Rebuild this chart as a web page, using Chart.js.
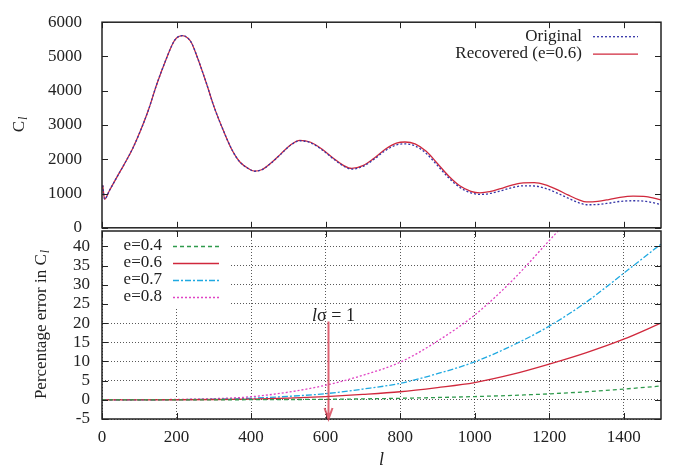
<!DOCTYPE html>
<html>
<head>
<meta charset="utf-8">
<title>C_l recovery</title>
<script src="https://cdn.jsdelivr.net/npm/chart.js@4.4.1/dist/chart.umd.min.js"></script>
<style>
  body { margin: 0; background: #fff; }
  #wrap { position: relative; width: 673px; height: 472px; }
  canvas { position: absolute; left: 0; top: 0; }
</style>
</head>
<body>
<div id="wrap">
  <canvas id="topChart" width="673" height="250"></canvas>
  <canvas id="errChart" width="673" height="472"></canvas>
</div>
<script>
// multipole l for the top panel
const lTop = [2, 7, 20, 40, 60, 83, 102, 125, 147, 175, 190, 200, 216, 230, 240, 255, 281, 300, 326, 350, 370, 397,
  410, 430, 455, 480, 505, 531, 560, 590, 620, 650, 670, 700, 730, 760, 790, 813, 840, 870, 900, 930,
  960, 990, 1014, 1040, 1070, 1100, 1130, 1160, 1190, 1220, 1250, 1280, 1300, 1330, 1360, 1390, 1425, 1460, 1500];
// original C_l
const clOriginal = [1240, 835, 1090, 1480, 1860, 2330, 2800, 3450, 4190, 5000, 5380, 5540, 5610, 5540, 5400, 5000, 4190, 3550, 2830, 2250, 1920, 1700,
  1650, 1700, 1900, 2150, 2400, 2540, 2480, 2280, 2020, 1790, 1713, 1790, 2000, 2250, 2420, 2450, 2390, 2170, 1820, 1460,
  1180, 1020, 975, 1000, 1080, 1170, 1225, 1220, 1150, 1020, 870, 730, 672, 680, 720, 770, 790, 770, 680];
// recovered C_l (e=0.6)
const clRecovered = [1240, 835, 1090, 1480, 1860, 2330, 2800, 3450, 4190, 5000, 5380, 5540, 5610, 5540, 5400, 5000, 4190, 3550, 2830, 2250, 1920, 1702,
  1652, 1702, 1906, 2158, 2411, 2554, 2496, 2297, 2037, 1808, 1732, 1814, 2031, 2291, 2468, 2504, 2450, 2231, 1878, 1513,
  1227, 1065, 1022, 1053, 1144, 1246, 1313, 1316, 1252, 1119, 962, 815, 755, 770, 824, 889, 924, 911, 816];

// multipole l for the error panel
const lErr = [0, 100, 200, 300, 400, 500, 600, 700, 800, 900, 1000, 1100, 1200, 1300, 1400, 1500];
// percentage error in C_l for each e
const err04 = [0, 0, 0, 0.01, 0.03, 0.07, 0.13, 0.24, 0.4, 0.6, 0.85, 1.15, 1.55, 2.1, 2.8, 3.6];
const err06 = [0, 0, 0.02, 0.08, 0.2, 0.45, 0.85, 1.4, 2.1, 3.2, 4.5, 6.6, 9.3, 12.3, 15.8, 20];
const err07 = [0, 0.01, 0.05, 0.15, 0.4, 0.9, 1.6, 2.8, 4.3, 6.8, 9.9, 14.1, 19.2, 25.5, 33, 40.6];
const err08 = [0, 0.02, 0.1, 0.3, 0.8, 2.0, 3.8, 6.4, 9.8, 15.3, 22.1, 31, 41.5, 52, null, null];

// tick labels
const xTicks = [0, 200, 400, 600, 800, 1000, 1200, 1400];
const clTicks = [0, 1000, 2000, 3000, 4000, 5000, 6000];
const errTicks = [-5, 0, 5, 10, 15, 20, 25, 30, 35, 40];

// l_sigma = 1 marker
const sigmaL = 607;
const sigmaTop = 20.4;

const SERIF = "'Liberation Serif', 'DejaVu Serif', serif";
const INK = '#222';
const FS = 17;

let pts = (xs, ys) => xs.map((x, i) => ({ x: x, y: ys[i] }));
let fixTicks = (arr) => (scale) => { scale.ticks = arr.map(v => ({ value: v })); };

// frame and gnuplot style inward ticks on all four sides
let drawFrame = (chart) => {
  const { ctx, chartArea: a, scales: { x, y } } = chart;
  const len = 6;
  ctx.save();
  ctx.strokeStyle = INK;
  ctx.lineWidth = 1;
  ctx.beginPath();
  x.ticks.forEach(t => {
    const px = Math.round(x.getPixelForValue(t.value)) + 0.5;
    ctx.moveTo(px, a.bottom); ctx.lineTo(px, a.bottom - len);
    ctx.moveTo(px, a.top); ctx.lineTo(px, a.top + len);
  });
  y.ticks.forEach(t => {
    const py = Math.round(y.getPixelForValue(t.value)) + 0.5;
    ctx.moveTo(a.left, py); ctx.lineTo(a.left + len, py);
    ctx.moveTo(a.right, py); ctx.lineTo(a.right - len, py);
  });
  ctx.stroke();
  ctx.lineWidth = 1.5;
  ctx.strokeRect(a.left, a.top, a.right - a.left, a.bottom - a.top);
  ctx.restore();
};

// rotated y title with an italic subscript l
let drawYTitle = (ctx, text, cx, cy) => {
  ctx.save();
  ctx.translate(cx, cy);
  ctx.rotate(-Math.PI / 2);
  ctx.fillStyle = INK;
  ctx.textBaseline = 'middle';
  ctx.font = FS + 'px ' + SERIF;
  const w1 = ctx.measureText(text).width;
  ctx.font = 'italic 12px ' + SERIF;
  const w2 = ctx.measureText('l').width;
  let x0 = -(w1 + w2) / 2;
  ctx.font = FS + 'px ' + SERIF;
  ctx.textAlign = 'left';
  ctx.fillText(text, x0, 0);
  ctx.font = 'italic 12px ' + SERIF;
  ctx.fillText('l', x0 + w1 + 1, 4);
  ctx.restore();
};

// legend drawn the gnuplot way: text then sample line
let drawKey = (ctx, datasets, textRight, lineFrom, lineTo, top, step) => {
  ctx.save();
  ctx.font = FS + 'px ' + SERIF;
  ctx.textAlign = 'right';
  ctx.textBaseline = 'middle';
  datasets.forEach((ds, i) => {
    const yy = top + i * step;
    ctx.fillStyle = INK;
    ctx.fillText(ds.label, textRight, yy);
    ctx.strokeStyle = ds.borderColor;
    ctx.lineWidth = ds.borderWidth;
    ctx.setLineDash(ds.borderDash || []);
    ctx.beginPath();
    ctx.moveTo(lineFrom, yy + 0.5);
    ctx.lineTo(lineTo, yy + 0.5);
    ctx.stroke();
  });
  ctx.restore();
};

const topPlugin = {
  id: 'topPlugin',
  afterDraw(chart) {
    const a = chart.chartArea;
    drawFrame(chart);
    drawKey(chart.ctx, chart.data.datasets, a.right - 79, a.right - 68, a.right - 23, a.top + 14, 17.5);
    drawYTitle(chart.ctx, 'C', 20, (a.top + a.bottom) / 2);
  }
};

const errPlugin = {
  id: 'errPlugin',
  beforeDatasetsDraw(chart) {
    // white box behind the key hides the grid
    const a = chart.chartArea;
    chart.ctx.save();
    chart.ctx.fillStyle = '#fff';
    chart.ctx.fillRect(a.left + 1, a.top + 1, 126, 76);
    chart.ctx.restore();
  },
  afterDraw(chart) {
    const { ctx, chartArea: a, scales: { x, y } } = chart;
    drawFrame(chart);
    drawKey(ctx, chart.data.datasets, a.left + 60, a.left + 71, a.left + 117, a.top + 15, 17);
    drawYTitle(ctx, 'Percentage error in C', 42, (a.top + a.bottom) / 2);

    // arrow marking l sigma = 1
    const px = Math.round(x.getPixelForValue(sigmaL)) + 0.5;
    const y1 = y.getPixelForValue(sigmaTop);
    const y2 = y.getPixelForValue(-5);
    ctx.save();
    ctx.strokeStyle = 'rgba(214,60,80,0.8)';
    ctx.lineWidth = 2;
    ctx.beginPath();
    ctx.moveTo(px, y1); ctx.lineTo(px, y2);
    ctx.moveTo(px - 4, y2 - 11); ctx.lineTo(px, y2); ctx.lineTo(px + 4, y2 - 11);
    ctx.stroke();

    // label "l sigma = 1"
    ctx.fillStyle = INK;
    ctx.textBaseline = 'alphabetic';
    ctx.textAlign = 'left';
    ctx.font = 'italic 18px ' + SERIF;
    const wl = ctx.measureText('l').width;
    ctx.font = '18px ' + SERIF;
    const wr = ctx.measureText('\u03c3 = 1').width;
    const x0 = px + 5 - (wl + wr) / 2;
    ctx.font = 'italic 18px ' + SERIF;
    ctx.fillText('l', x0, y1 - 1);
    ctx.font = '18px ' + SERIF;
    ctx.fillText('\u03c3 = 1', x0 + wl, y1 - 1);

    // x axis title
    ctx.font = 'italic 18px ' + SERIF;
    ctx.textAlign = 'center';
    ctx.textBaseline = 'middle';
    ctx.fillText('l', (a.left + a.right) / 2, 460);
    ctx.restore();
  }
};

let lineSet = (label, data, color, dash) => ({
  label: label,
  data: data,
  borderColor: color,
  borderWidth: 1.3,
  borderDash: dash,
  pointRadius: 0,
  fill: false,
  cubicInterpolationMode: 'monotone'
});

const tickOpts = {
  font: { family: SERIF, size: FS },
  color: INK,
  autoSkip: false,
  maxRotation: 0,
  callback: (v) => String(v)
};

// top panel: C_l
new Chart(document.getElementById('topChart'), {
  type: 'line',
  data: {
    datasets: [
      lineSet('Original', pts(lTop, clOriginal), '#3535a8', [2, 2]),
      lineSet('Recovered (e=0.6)', pts(lTop, clRecovered), '#d0283c', [])
    ]
  },
  options: {
    responsive: false,
    animation: false,
    events: [],
    layout: { padding: { top: 10, right: 12, bottom: 19, left: 0 } },
    plugins: { legend: { display: false }, tooltip: { enabled: false } },
    scales: {
      x: {
        type: 'linear', min: 0, max: 1500,
        afterBuildTicks: fixTicks(xTicks),
        afterFit: (s) => { s.height = 0; },
        ticks: { display: false },
        grid: { display: false },
        border: { display: false }
      },
      y: {
        min: 0, max: 6000,
        afterBuildTicks: fixTicks(clTicks),
        afterFit: (s) => { s.width = 102; },
        ticks: Object.assign({ padding: 12 }, tickOpts),
        grid: { display: false },
        border: { display: false }
      }
    }
  },
  plugins: [topPlugin]
});

// bottom panel: percentage error
new Chart(document.getElementById('errChart'), {
  type: 'line',
  data: {
    datasets: [
      lineSet('e=0.4', pts(lErr, err04), '#2f9a4c', [4, 3]),
      lineSet('e=0.6', pts(lErr, err06), '#d0283c', []),
      lineSet('e=0.7', pts(lErr, err07), '#1fa9e1', [6, 2, 2, 2]),
      lineSet('e=0.8', pts(lErr, err08), '#e044c4', [2, 2])
    ]
  },
  options: {
    responsive: false,
    animation: false,
    events: [],
    layout: { padding: { top: 231, right: 12, bottom: 0, left: 0 } },
    plugins: { legend: { display: false }, tooltip: { enabled: false } },
    scales: {
      x: {
        type: 'linear', min: 0, max: 1500,
        afterBuildTicks: fixTicks(xTicks),
        afterFit: (s) => { s.height = 53; },
        ticks: Object.assign({ padding: 8 }, tickOpts),
        grid: { color: 'rgba(0,0,0,0.65)', lineWidth: 1, drawTicks: false },
        border: { display: false, dash: [1, 2] }
      },
      y: {
        min: -5, max: 44,
        afterBuildTicks: fixTicks(errTicks),
        afterFit: (s) => { s.width = 102; },
        ticks: Object.assign({ padding: 12 }, tickOpts),
        grid: { color: 'rgba(0,0,0,0.65)', lineWidth: 1, drawTicks: false },
        border: { display: false, dash: [1, 2] }
      }
    }
  },
  plugins: [errPlugin]
});
</script>
</body>
</html>
